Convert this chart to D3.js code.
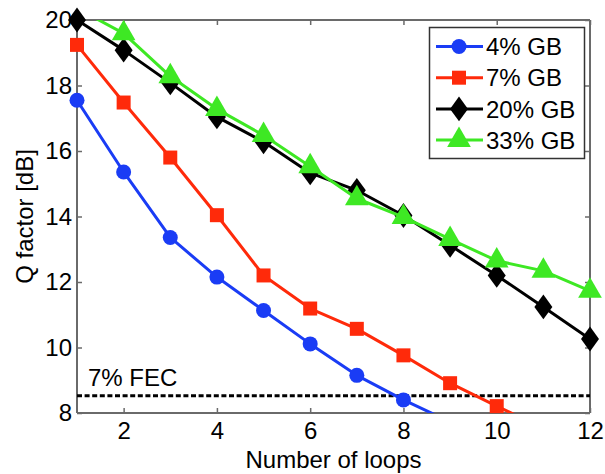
<!DOCTYPE html>
<html>
<head>
<meta charset="utf-8">
<script src="https://cdn.jsdelivr.net/npm/d3@7"></script>
<style>
  body { margin: 0; background: #fff; }
  svg { display: block; font-family: 'Liberation Sans', Arial, sans-serif; }
</style>
</head>
<body>
<svg id="canvas"></svg>
<script>
const loops = [1, 2, 3, 4, 5, 6, 7, 8, 9, 10, 11, 12]
const gb4 = [17.55, 15.36, 13.36, 12.15, 11.13, 10.11, 9.15, 8.4, 7.73]
const gb7 = [19.24, 17.48, 15.8, 14.04, 12.2, 11.19, 10.57, 9.76, 8.91, 8.21, 7.53]
const gb20 = [20.0, 19.08, 18.08, 17.04, 16.28, 15.33, 14.8, 14.03, 13.12, 12.2, 11.24, 10.26]
const gb33 = [20.36, 19.59, 18.28, 17.28, 16.48, 15.53, 14.55, 13.98, 13.31, 12.65, 12.34, 11.73]
const seriesNames = ['4% GB', '7% GB', '20% GB', '33% GB']
const fecLimit = 8.53
const fecLabel = '7% FEC'
const xTicks = [2, 4, 6, 8, 10, 12]
const yTicks = [8, 10, 12, 14, 16, 18, 20]

const colors = ['#1a3cf5', '#ff2a0a', '#000000', '#3ee824']
const shapes = [d3.symbolCircle, d3.symbolSquare, 'diamond', d3.symbolTriangle]

const w = 605
const h = 474
const fontSize = 24
const margin = { left: 77, right: 15, top: 20, bottom: 61 }
const canvas = d3.select('#canvas').attr('width', w).attr('height', h)

const x = d3.scaleLinear().domain([1, 12]).range([margin.left, w - margin.right])
const y = d3.scaleLinear().domain([8, 20]).range([h - margin.bottom, margin.top])

const series = [gb4, gb7, gb20, gb33].map((vals, i) => ({
  name: seriesNames[i],
  color: colors[i],
  shape: shapes[i],
  points: vals.map((v, j) => [loops[j], v])
}))

canvas.append('clipPath').attr('id', 'clip')
  .append('rect')
  .attr('x', x(1)).attr('y', y(20))
  .attr('width', x(12) - x(1)).attr('height', y(8) - y(20))

const axisColor = '#6a6a6a'

// axes box with inward ticks on all four sides
const gx = canvas.append('g').attr('transform', `translate(0,${y(8)})`)
  .call(d3.axisBottom(x).tickValues(xTicks).tickSize(-5).tickPadding(9))
const gxTop = canvas.append('g').attr('transform', `translate(0,${y(20)})`)
  .call(d3.axisTop(x).tickValues(xTicks).tickSize(-5).tickFormat(''))
const gy = canvas.append('g').attr('transform', `translate(${x(1)},0)`)
  .call(d3.axisLeft(y).tickValues(yTicks).tickSize(-5).tickPadding(5))
const gyRight = canvas.append('g').attr('transform', `translate(${x(12)},0)`)
  .call(d3.axisRight(y).tickValues(yTicks).tickSize(-5).tickFormat(''))

;[gx, gxTop, gy, gyRight].forEach(g => {
  g.selectAll('path').attr('stroke', axisColor).attr('stroke-width', 2)
  g.selectAll('line').attr('stroke', axisColor).attr('stroke-width', 1.5)
  g.selectAll('text').attr('fill', '#000').attr('font-size', fontSize)
    .attr('font-family', "'Liberation Sans', Arial, sans-serif")
})
gx.selectAll('path').attr('d', `M${x(1)},0H${x(12)}`)
gxTop.selectAll('path').attr('d', `M${x(1)},0H${x(12)}`)
gy.selectAll('path').attr('d', `M0,${y(8)}V${y(20)}`)
gyRight.selectAll('path').attr('d', `M0,${y(8)}V${y(20)}`)
gx.selectAll('text').attr('dy', '0.71em')

// FEC threshold
canvas.append('line')
  .attr('x1', x(1)).attr('x2', x(12))
  .attr('y1', y(fecLimit)).attr('y2', y(fecLimit))
  .attr('stroke', '#000').attr('stroke-width', 3)
  .attr('stroke-dasharray', '5,2.6')

canvas.append('text')
  .attr('x', 88).attr('y', y(fecLimit) - 10)
  .attr('font-size', fontSize)
  .text(fecLabel)

const markerPath = (shape, size) => {
  if (shape === 'diamond') {
    return `M0,${-size * 0.62}L${size * 0.45},0L0,${size * 0.62}L${-size * 0.45},0Z`
  }
  const area = shape === d3.symbolCircle ? Math.PI * (size / 2) ** 2
    : shape === d3.symbolSquare ? size * size
    : size * size * 0.75
  return d3.symbol().type(shape).size(area)()
}
const markerSize = i => [15, 14, 20, 18][i]

const line = d3.line().x(d => x(d[0])).y(d => y(d[1]))

series.forEach((s, i) => {
  canvas.append('path')
    .datum(s.points)
    .attr('clip-path', 'url(#clip)')
    .attr('fill', 'none')
    .attr('stroke', s.color)
    .attr('stroke-width', 3)
    .attr('stroke-linejoin', 'round')
    .attr('d', line)

  canvas.append('g')
    .selectAll('path')
    .data(s.points.filter(d => d[1] >= 8 && d[1] <= 20))
    .enter()
    .append('path')
    .attr('transform', d => `translate(${x(d[0])},${y(d[1])})`)
    .attr('d', markerPath(s.shape, markerSize(i)))
    .attr('fill', s.color)
})

// legend
const legend = canvas.append('g')
legend.append('rect')
  .attr('x', 429.5).attr('y', 27.5)
  .attr('width', 155).attr('height', 131)
  .attr('fill', '#fff').attr('stroke', '#333').attr('stroke-width', 1.5)

series.forEach((s, i) => {
  const ly = 46.5 + i * 31.2
  legend.append('line')
    .attr('x1', 436).attr('x2', 483)
    .attr('y1', ly).attr('y2', ly)
    .attr('stroke', s.color).attr('stroke-width', 3)
  legend.append('path')
    .attr('transform', `translate(459,${ly})`)
    .attr('d', markerPath(s.shape, markerSize(i)))
    .attr('fill', s.color)
  legend.append('text')
    .attr('x', 486).attr('y', ly)
    .attr('dy', '0.36em')
    .attr('font-size', fontSize)
    .text(s.name)
})

canvas.append('text')
  .attr('x', (x(1) + x(12)) / 2).attr('y', 468)
  .attr('text-anchor', 'middle')
  .attr('font-size', fontSize)
  .text('Number of loops')

canvas.append('text')
  .attr('transform', `translate(33,${(y(8) + y(20)) / 2}) rotate(-90)`)
  .attr('text-anchor', 'middle')
  .attr('font-size', fontSize)
  .text('Q factor [dB]')
</script>
</body>
</html>
